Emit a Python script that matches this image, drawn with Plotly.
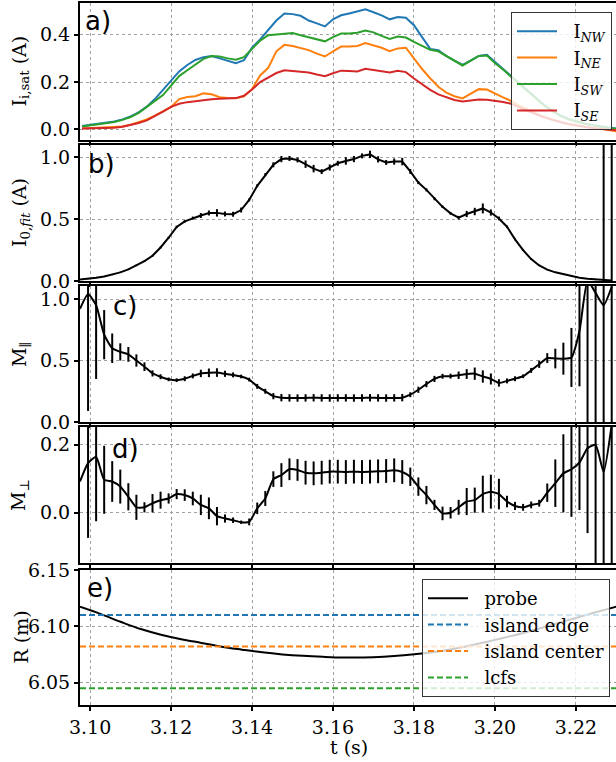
import plotly.graph_objects as go

# ---------------- data ----------------
# sampling times of the probe-fit quantities (panels b-d)
t = [3.09750, 3.09949, 3.10148, 3.10347, 3.10546, 3.10745, 3.10944, 3.11143, 3.11342, 3.11541,
     3.11740, 3.11939, 3.12138, 3.12337, 3.12536, 3.12735, 3.12934, 3.13133, 3.13332, 3.13531,
     3.13730, 3.13929, 3.14128, 3.14327, 3.14526, 3.14725, 3.14924, 3.15123, 3.15322, 3.15521,
     3.15720, 3.15919, 3.16118, 3.16317, 3.16516, 3.16715, 3.16914, 3.17113, 3.17312, 3.17511,
     3.17710, 3.17909, 3.18108, 3.18307, 3.18506, 3.18705, 3.18904, 3.19103, 3.19302, 3.19501,
     3.19700, 3.19899, 3.20098, 3.20297, 3.20496, 3.20695, 3.20894, 3.21093, 3.21292, 3.21491,
     3.21690, 3.21889, 3.22088, 3.22287, 3.22486, 3.22685, 3.22884]

# sampling times of the raw ion saturation currents (panel a)
t_a = [3.098, 3.100, 3.102, 3.104, 3.106, 3.108, 3.110, 3.112, 3.114, 3.116,
       3.118, 3.120, 3.122, 3.124, 3.126, 3.128, 3.130, 3.132, 3.134, 3.136,
       3.138, 3.140, 3.142, 3.144, 3.146, 3.148, 3.150, 3.152, 3.154, 3.156,
       3.158, 3.160, 3.162, 3.164, 3.166, 3.168, 3.170, 3.172, 3.174, 3.176,
       3.178, 3.180, 3.182, 3.184, 3.186, 3.188, 3.190, 3.192, 3.194, 3.196,
       3.198, 3.200, 3.202, 3.204, 3.206, 3.208, 3.210, 3.212, 3.214, 3.216,
       3.218, 3.220, 3.222, 3.224, 3.226, 3.228, 3.230]

i_nw = [0.014, 0.018, 0.022, 0.027, 0.033, 0.042, 0.055, 0.072, 0.096, 0.128,
        0.167, 0.21, 0.245, 0.272, 0.293, 0.305, 0.31, 0.30, 0.29, 0.28,
        0.292, 0.345, 0.38, 0.42, 0.46, 0.49, 0.487, 0.48, 0.46, 0.448,
        0.435, 0.465, 0.482, 0.49, 0.5, 0.507, 0.495, 0.482, 0.465, 0.475,
        0.472, 0.44, 0.39, 0.34, 0.335, 0.31, 0.29, 0.272, 0.29, 0.31,
        0.315, 0.285, 0.258, 0.225, 0.195, 0.165, 0.135, 0.105, 0.08, 0.06,
        0.045, 0.034, 0.025, 0.018, 0.012, 0.007, 0.003]
i_ne = [0.004, 0.005, 0.006, 0.007, 0.008, 0.012, 0.02, 0.03, 0.042, 0.058,
        0.075, 0.095, 0.128, 0.137, 0.14, 0.152, 0.148, 0.136, 0.133, 0.131,
        0.14, 0.17, 0.228, 0.26, 0.33, 0.357, 0.352, 0.345, 0.335, 0.32,
        0.308, 0.33, 0.35, 0.35, 0.352, 0.365, 0.355, 0.345, 0.33, 0.342,
        0.345, 0.3, 0.255, 0.216, 0.18, 0.155, 0.14, 0.131, 0.15, 0.17,
        0.168, 0.15, 0.135, 0.12, 0.1, 0.084, 0.068, 0.054, 0.042, 0.032,
        0.024, 0.017, 0.011, 0.006, 0.002, -0.003, -0.008]
i_sw = [0.012, 0.016, 0.02, 0.025, 0.031, 0.04, 0.052, 0.07, 0.094, 0.118,
        0.145, 0.185, 0.225, 0.25, 0.275, 0.298, 0.31, 0.308, 0.3, 0.294,
        0.305, 0.34, 0.375, 0.398, 0.40, 0.402, 0.407, 0.398, 0.39, 0.383,
        0.372, 0.39, 0.405, 0.405, 0.408, 0.418, 0.41, 0.395, 0.382, 0.392,
        0.388, 0.37, 0.352, 0.336, 0.33, 0.31, 0.29, 0.27, 0.29, 0.31,
        0.312, 0.28, 0.253, 0.222, 0.192, 0.162, 0.132, 0.103, 0.079, 0.059,
        0.044, 0.033, 0.024, 0.017, 0.011, 0.006, 0.002]
i_se = [0.004, 0.004, 0.005, 0.005, 0.007, 0.011, 0.018, 0.027, 0.038, 0.055,
        0.075, 0.095, 0.108, 0.115, 0.12, 0.124, 0.127, 0.129, 0.13, 0.132,
        0.142, 0.168, 0.2, 0.22, 0.238, 0.25, 0.247, 0.243, 0.24, 0.232,
        0.225, 0.237, 0.248, 0.247, 0.245, 0.256, 0.25, 0.245, 0.24, 0.248,
        0.242, 0.215, 0.19, 0.167, 0.148, 0.135, 0.124, 0.118, 0.122, 0.126,
        0.125, 0.122, 0.116, 0.108, 0.093, 0.079, 0.065, 0.052, 0.041, 0.031,
        0.023, 0.016, 0.011, 0.006, 0.003, 0.0, -0.004]

i0_fit = [0.012, 0.0165, 0.0255, 0.037, 0.051, 0.07, 0.094, 0.126, 0.161, 0.204,
          0.271, 0.35, 0.437, 0.482, 0.509, 0.53, 0.55, 0.551, 0.542, 0.54,
          0.574, 0.656, 0.77, 0.86, 0.94, 0.986, 0.991, 0.979, 0.945, 0.909,
          0.885, 0.918, 0.952, 0.971, 0.986, 1.012, 1.024, 0.984, 0.959, 0.966,
          0.966, 0.886, 0.796, 0.737, 0.665, 0.6, 0.547, 0.512, 0.542, 0.562,
          0.587, 0.554, 0.506, 0.439, 0.337, 0.25, 0.177, 0.126, 0.092, 0.07,
          0.054, 0.039, 0.027, 0.019, 0.012, 0.006, 0.0035]
i0_err = [0.003, 0.003, 0.003, 0.004, 0.004, 0.005, 0.005, 0.006, 0.006, 0.007,
          0.008, 0.008, 0.01, 0.01, 0.012, 0.02, 0.02, 0.03, 0.02, 0.02,
          0.02, 0.012, 0.012, 0.012, 0.02, 0.025, 0.02, 0.02, 0.03, 0.03,
          0.02, 0.025, 0.02, 0.03, 0.025, 0.02, 0.03, 0.025, 0.02, 0.025,
          0.03, 0.02, 0.012, 0.012, 0.012, 0.01, 0.01, 0.015, 0.025, 0.03,
          0.04, 0.025, 0.015, 0.01, 0.008, 0.007, 0.006, 0.005, 0.004, 0.004,
          0.003, 0.003, 0.003, 0.003, 0.005, 3.0, 3.0]

m_par = [0.92, 1.04, 0.95, 0.71, 0.6, 0.57, 0.55, 0.5, 0.45, 0.395,
         0.368, 0.347, 0.34, 0.352, 0.375, 0.395, 0.40, 0.402, 0.392, 0.383,
         0.37, 0.345, 0.29, 0.25, 0.21, 0.198, 0.196, 0.195, 0.196, 0.197,
         0.196, 0.195, 0.196, 0.196, 0.195, 0.196, 0.197, 0.196, 0.195, 0.196,
         0.198, 0.222, 0.262, 0.308, 0.35, 0.372, 0.373, 0.38, 0.39, 0.393,
         0.37, 0.35, 0.318, 0.334, 0.352, 0.372, 0.42, 0.47, 0.52, 0.516,
         0.515, 0.525, 0.74, 1.15, 1.05, 0.95, 1.1]
m_par_err = [0.0, 0.95, 0.6, 0.2, 0.12, 0.07, 0.06, 0.05, 0.035, 0.025,
             0.02, 0.015, 0.015, 0.02, 0.02, 0.03, 0.035, 0.035, 0.025, 0.02,
             0.015, 0.015, 0.02, 0.02, 0.025, 0.03, 0.03, 0.03, 0.03, 0.03,
             0.03, 0.03, 0.03, 0.03, 0.03, 0.03, 0.03, 0.03, 0.03, 0.03,
             0.03, 0.02, 0.025, 0.025, 0.025, 0.02, 0.02, 0.03, 0.04, 0.05,
             0.05, 0.045, 0.03, 0.02, 0.02, 0.015, 0.02, 0.03, 0.04, 0.08,
             0.13, 0.24, 0.45, 3.0, 3.0, 3.0, 3.0]

m_perp = [0.092, 0.146, 0.165, 0.097, 0.092, 0.077, 0.047, 0.016, 0.016, 0.028,
          0.037, 0.042, 0.055, 0.052, 0.042, 0.023, 0.013, -0.01, -0.017, -0.022,
          -0.028, -0.027, 0.013, 0.042, 0.099, 0.111, 0.128, 0.126, 0.118, 0.116,
          0.118, 0.121, 0.121, 0.12, 0.121, 0.12, 0.121, 0.122, 0.123, 0.125,
          0.12, 0.106, 0.077, 0.052, 0.023, -0.002, 0.0, 0.016, 0.033, 0.037,
          0.055, 0.062, 0.055, 0.033, 0.02, 0.016, 0.023, 0.028, 0.059, 0.087,
          0.116, 0.128, 0.148, 0.19, 0.2, 0.12, 0.26]
m_perp_err = [0.0, 0.22, 0.19, 0.1, 0.06, 0.05, 0.04, 0.037, 0.015, 0.027,
              0.025, 0.015, 0.015, 0.017, 0.02, 0.03, 0.032, 0.027, 0.012, 0.008,
              0.005, 0.01, 0.017, 0.022, 0.023, 0.035, 0.032, 0.032, 0.035, 0.035,
              0.035, 0.035, 0.035, 0.035, 0.035, 0.035, 0.035, 0.035, 0.035, 0.035,
              0.035, 0.027, 0.027, 0.027, 0.015, 0.02, 0.017, 0.022, 0.04, 0.037,
              0.054, 0.05, 0.045, 0.017, 0.012, 0.01, 0.01, 0.01, 0.027, 0.07,
              0.115, 0.14, 0.14, 0.25, 1.0, 1.0, 1.0]

t_r = [3.0975, 3.1025, 3.1075, 3.1125, 3.1175, 3.1225, 3.1275, 3.1325, 3.1375, 3.1425,
       3.1475, 3.1525, 3.1575, 3.1625, 3.1675, 3.1725, 3.1775, 3.1825, 3.1875, 3.1925,
       3.1975, 3.2025, 3.2075, 3.2125, 3.2175, 3.2225, 3.2275, 3.2305]
r_probe = [6.1173, 6.1110, 6.1040, 6.0975, 6.0925, 6.0885, 6.0852, 6.0818, 6.0792, 6.0768,
           6.0750, 6.0737, 6.0728, 6.0722, 6.0723, 6.0730, 6.0742, 6.0760, 6.0785, 6.0818,
           6.0857, 6.0900, 6.0945, 6.0995, 6.1048, 6.1100, 6.1150, 6.1180]
r_level_names = ["island edge", "island center", "lcfs"]
r_levels = [6.110, 6.082, 6.045]

# ---------------- style ----------------
SERIF = "DejaVu Serif"
SANS = "DejaVu Sans"
C_BLUE, C_ORANGE, C_GREEN, C_RED = "#1f77b4", "#ff7f0e", "#2ca02c", "#d62728"
NB = "\u00a0"

W, H = 616, 762
ML, MR, MT, MB = 80, 0, 3, 57
PH = H - MT - MB
PW = W - ML - MR


def ydom(top_px, bot_px):
    return [(H - MB - bot_px) / PH, (H - MB - top_px) / PH]


panels_px = [(3, 140), (145, 281), (286, 422), (427, 563), (570, 705)]

fig = go.Figure()

# panel a
for name, vals, col in [("I<sub><i>NW</i></sub>", i_nw, C_BLUE),
                        ("I<sub><i>NE</i></sub>", i_ne, C_ORANGE),
                        ("I<sub><i>SW</i></sub>", i_sw, C_GREEN),
                        ("I<sub><i>SE</i></sub>", i_se, C_RED)]:
    fig.add_trace(go.Scatter(x=t_a, y=vals, mode="lines", name=NB + NB + name,
                             line=dict(color=col, width=2),
                             xaxis="x", yaxis="y", legend="legend"))

err_style = dict(type="data", visible=True, thickness=2, width=0, color="black")

fig.add_trace(go.Scatter(x=t, y=i0_fit, mode="lines", showlegend=False,
                         line=dict(color="black", width=2),
                         error_y=dict(array=i0_err, **err_style),
                         xaxis="x2", yaxis="y2"))
fig.add_trace(go.Scatter(x=t, y=m_par, mode="lines", showlegend=False,
                         line=dict(color="black", width=2, shape="spline", smoothing=0.5),
                         error_y=dict(array=m_par_err, **err_style),
                         xaxis="x3", yaxis="y3"))
fig.add_trace(go.Scatter(x=t, y=m_perp, mode="lines", showlegend=False,
                         line=dict(color="black", width=2, shape="spline", smoothing=0.5),
                         error_y=dict(array=m_perp_err, **err_style),
                         xaxis="x4", yaxis="y4"))

# panel e
fig.add_trace(go.Scatter(x=t_r, y=r_probe, mode="lines", name=NB + NB + "probe",
                         line=dict(color="black", width=2, shape="spline"),
                         xaxis="x5", yaxis="y5", legend="legend2"))
for name, lev, col in zip(r_level_names, r_levels, [C_BLUE, C_ORANGE, C_GREEN]):
    fig.add_trace(go.Scatter(x=[t_r[0], t_r[-1]], y=[lev, lev], mode="lines",
                             name=NB + NB + name,
                             line=dict(color=col, width=2, dash="6px,3px"),
                             xaxis="x5", yaxis="y5", legend="legend2"))

tickfont = dict(family=SERIF, size=19, color="black")
grid = dict(showgrid=True, gridcolor="#a0a0a0", gridwidth=1, griddash="dot")
line = dict(showline=True, linecolor="black", linewidth=2, zeroline=False,
            ticks="outside", ticklen=4, tickwidth=1.5, tickcolor="black",
            automargin=False)

yranges = [[-0.045, 0.534], [0, 1.1], [0, 1.106], [-0.148, 0.2525], [6.03, 6.15]]
ydticks = [0.2, 0.5, 0.5, 0.2, 0.05]
yfmts = [".1f", ".1f", ".1f", ".1f", ".2f"]

layout = dict(width=W, height=H,
              margin=dict(l=ML, r=MR, t=MT, b=MB, pad=0, autoexpand=False),
              paper_bgcolor="white", plot_bgcolor="white", showlegend=True)
for i in range(5):
    sfx = "" if i == 0 else str(i + 1)
    layout["xaxis" + sfx] = dict(domain=[0, 1], anchor="y" + sfx, range=[3.0975, 3.2299],
                                 tick0=3.10, dtick=0.02, tickformat=".2f",
                                 showticklabels=(i == 4), tickfont=tickfont,
                                 mirror=True, **grid, **line)
    if i > 0:
        layout["xaxis" + sfx]["matches"] = "x"
    layout["yaxis" + sfx] = dict(domain=ydom(*panels_px[i]), anchor="x" + sfx,
                                 range=yranges[i], dtick=ydticks[i], tickformat=yfmts[i],
                                 tickfont=tickfont, mirror=False, **grid, **line)

legfont = dict(family=SERIF, size=18, color="black")
layout["legend"] = dict(x=(612 - ML) / PW, xanchor="right", y=(H - MB - 12) / PH, yanchor="top",
                        bgcolor="rgba(255,255,255,0.8)", bordercolor="#333333", borderwidth=1,
                        font=legfont, itemwidth=40, tracegroupgap=0)
layout["legend2"] = dict(x=(610 - ML) / PW, xanchor="right", y=(H - MB - 579) / PH, yanchor="top",
                         bgcolor="rgba(255,255,255,0.8)", bordercolor="#333333", borderwidth=1,
                         font=legfont, itemwidth=40, tracegroupgap=0)

anns = []
for lab, (xp, yp) in zip(["a)", "b)", "c)", "d)", "e)"],
                         [(83, 4), (86, 147), (111, 289), (110, 432), (85, 571)]):
    anns.append(dict(text=lab, xref="paper", yref="paper", x=(xp - ML) / PW,
                     y=(H - MB - yp) / PH, xanchor="left", yanchor="top", showarrow=False,
                     font=dict(family=SANS, size=26, color="black")))
ytitles = ["I<sub>i,sat</sub> (A)", "I<sub>0,<i>fit</i></sub> (A)", "M<sub>∥</sub>",
           "M<sub>⊥</sub>", "R (m)"]
for i, ttl in enumerate(ytitles):
    top, bot = panels_px[i]
    anns.append(dict(text=ttl, xref="paper", yref="paper", x=(20 - ML) / PW,
                     y=(H - MB - (top + bot) / 2) / PH, xanchor="center", yanchor="middle",
                     textangle=-90, showarrow=False,
                     font=dict(family=SERIF, size=19, color="black")))
anns.append(dict(text="t (s)", xref="paper", yref="paper", x=(349 - ML) / PW,
                 y=(H - MB - 747) / PH, xanchor="center", yanchor="middle", showarrow=False,
                 font=dict(family=SERIF, size=19, color="black")))
layout["annotations"] = anns

fig.update_layout(**layout)
fig.write_html("out.html")
